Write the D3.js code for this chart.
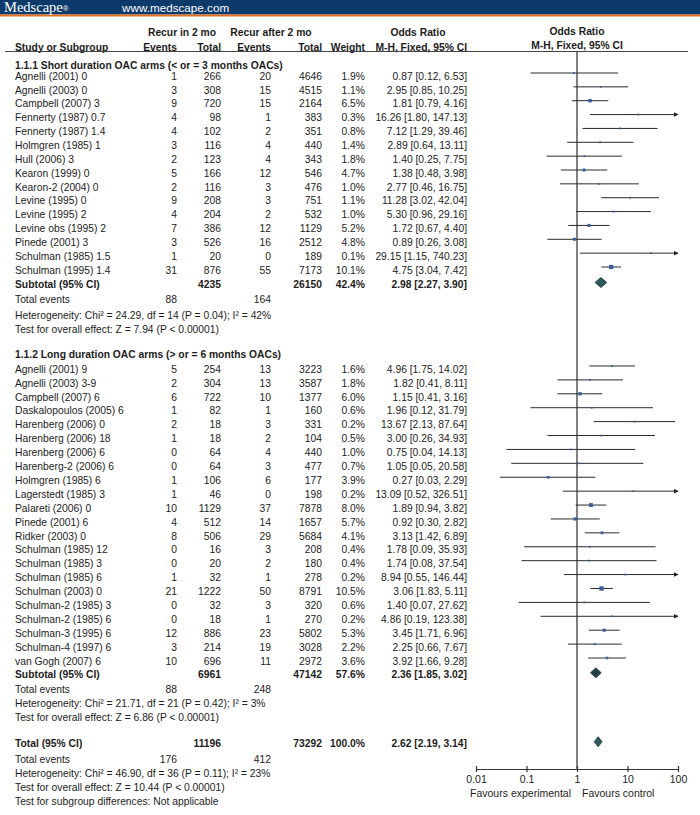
<!DOCTYPE html>
<html><head><meta charset="utf-8">
<script src="https://cdn.jsdelivr.net/npm/d3@7"></script>
<style>body{margin:0;background:#fff}</style>
</head><body>
<script>
// [study, events (in 2 mo), total, events (after 2 mo), total, weight %, OR, lower, upper]
const shortStudies = [
  ["Agnelli (2001) 0", 1, 266, 20, 4646, 1.9, 0.87, 0.12, 6.53],
  ["Agnelli (2003) 0", 3, 308, 15, 4515, 1.1, 2.95, 0.85, 10.25],
  ["Campbell (2007) 3", 9, 720, 15, 2164, 6.5, 1.81, 0.79, 4.16],
  ["Fennerty (1987) 0.7", 4, 98, 1, 383, 0.3, 16.26, 1.80, 147.13],
  ["Fennerty (1987) 1.4", 4, 102, 2, 351, 0.8, 7.12, 1.29, 39.46],
  ["Holmgren (1985) 1", 3, 116, 4, 440, 1.4, 2.89, 0.64, 13.11],
  ["Hull (2006) 3", 2, 123, 4, 343, 1.8, 1.40, 0.25, 7.75],
  ["Kearon (1999) 0", 5, 166, 12, 546, 4.7, 1.38, 0.48, 3.98],
  ["Kearon-2 (2004) 0", 2, 116, 3, 476, 1.0, 2.77, 0.46, 16.75],
  ["Levine (1995) 0", 9, 208, 3, 751, 1.1, 11.28, 3.02, 42.04],
  ["Levine (1995) 2", 4, 204, 2, 532, 1.0, 5.30, 0.96, 29.16],
  ["Levine obs (1995) 2", 7, 386, 12, 1129, 5.2, 1.72, 0.67, 4.40],
  ["Pinede (2001) 3", 3, 526, 16, 2512, 4.8, 0.89, 0.26, 3.08],
  ["Schulman (1985) 1.5", 1, 20, 0, 189, 0.1, 29.15, 1.15, 740.23],
  ["Schulman (1995) 1.4", 31, 876, 55, 7173, 10.1, 4.75, 3.04, 7.42]
];
const longStudies = [
  ["Agnelli (2001) 9", 5, 254, 13, 3223, 1.6, 4.96, 1.75, 14.02],
  ["Agnelli (2003) 3-9", 2, 304, 13, 3587, 1.8, 1.82, 0.41, 8.11],
  ["Campbell (2007) 6", 6, 722, 10, 1377, 6.0, 1.15, 0.41, 3.16],
  ["Daskalopoulos (2005) 6", 1, 82, 1, 160, 0.6, 1.96, 0.12, 31.79],
  ["Harenberg (2006) 0", 2, 18, 3, 331, 0.2, 13.67, 2.13, 87.64],
  ["Harenberg (2006) 18", 1, 18, 2, 104, 0.5, 3.00, 0.26, 34.93],
  ["Harenberg (2006) 6", 0, 64, 4, 440, 1.0, 0.75, 0.04, 14.13],
  ["Harenberg-2 (2006) 6", 0, 64, 3, 477, 0.7, 1.05, 0.05, 20.58],
  ["Holmgren (1985) 6", 1, 106, 6, 177, 3.9, 0.27, 0.03, 2.29],
  ["Lagerstedt (1985) 3", 1, 46, 0, 198, 0.2, 13.09, 0.52, 326.51],
  ["Palareti (2006) 0", 10, 1129, 37, 7878, 8.0, 1.89, 0.94, 3.82],
  ["Pinede (2001) 6", 4, 512, 14, 1657, 5.7, 0.92, 0.30, 2.82],
  ["Ridker (2003) 0", 8, 506, 29, 5684, 4.1, 3.13, 1.42, 6.89],
  ["Schulman (1985) 12", 0, 16, 3, 208, 0.4, 1.78, 0.09, 35.93],
  ["Schulman (1985) 3", 0, 20, 2, 180, 0.4, 1.74, 0.08, 37.54],
  ["Schulman (1985) 6", 1, 32, 1, 278, 0.2, 8.94, 0.55, 146.44],
  ["Schulman (2003) 0", 21, 1222, 50, 8791, 10.5, 3.06, 1.83, 5.11],
  ["Schulman-2 (1985) 3", 0, 32, 3, 320, 0.6, 1.40, 0.07, 27.62],
  ["Schulman-2 (1985) 6", 0, 18, 1, 270, 0.2, 4.86, 0.19, 123.38],
  ["Schulman-3 (1995) 6", 12, 886, 23, 5802, 5.3, 3.45, 1.71, 6.96],
  ["Schulman-4 (1997) 6", 3, 214, 19, 3028, 2.2, 2.25, 0.66, 7.67],
  ["van Gogh (2007) 6", 10, 696, 11, 2972, 3.6, 3.92, 1.66, 9.28]
];
// [label, total1, total2, weight, OR, lower, upper, events1, events2]
const shortSubtotal = ["Subtotal (95% CI)", 4235, 26150, 42.4, 2.98, 2.27, 3.90, 88, 164];
const longSubtotal  = ["Subtotal (95% CI)", 6961, 47142, 57.6, 2.36, 1.85, 3.02, 88, 248];
const overallTotal  = ["Total (95% CI)", 11196, 73292, 100.0, 2.62, 2.19, 3.14, 176, 412];
const shortNotes = ["Heterogeneity: Chi² = 24.29, df = 14 (P = 0.04); I² = 42%", "Test for overall effect: Z = 7.94 (P < 0.00001)"];
const longNotes = ["Heterogeneity: Chi² = 21.71, df = 21 (P = 0.42); I² = 3%", "Test for overall effect: Z = 6.86 (P < 0.00001)"];
const totalNotes = ["Heterogeneity: Chi² = 46.90, df = 36 (P = 0.11); I² = 23%", "Test for overall effect: Z = 10.44 (P < 0.00001)", "Test for subgroup differences: Not applicable"];
const sectionTitles = ["1.1.1 Short duration OAC arms (< or = 3 months OACs)", "1.1.2 Long duration OAC arms (> or = 6 months OACs)"];
const tickValues = [0.01, 0.1, 1, 10, 100];
const tickLabels = ["0.01", "0.1", "1", "10", "100"];

const W = 700, H = 815;
const FS = 10.3;
const ink = "#1c1c1c";
const svg = d3.select("body").append("svg").attr("width", W).attr("height", H)
  .style("font-family", "'Liberation Sans', Arial, Helvetica, sans-serif");
svg.append("rect").attr("width", W).attr("height", H).attr("fill", "#fff");

// banner
svg.append("rect").attr("x", 0).attr("y", 0).attr("width", W).attr("height", 14.5).attr("fill", "#0c3a6a");
svg.append("rect").attr("x", 0).attr("y", 14.5).attr("width", W).attr("height", 2).attr("fill", "#e5711e");
const ms = svg.append("text").attr("x", 4).attr("y", 12).attr("fill", "#fff")
  .style("font-family", "'Liberation Serif','DejaVu Serif',serif").style("font-size", "14.5px");
ms.append("tspan").text("Medscape");
ms.append("tspan").text("®").style("font-size", "8px").style("font-family", "'Liberation Sans',sans-serif").attr("dy", -1);
svg.append("text").attr("x", 122).attr("y", 11.5).attr("fill", "#fff").style("font-size", "11.7px").text("www.medscape.com");

const x = d3.scaleLog().domain([0.01, 100]).range([476, 678]);
const yShort = d3.scaleLinear().domain([0, shortStudies.length - 1]).range([76, 270]);
const yLong = d3.scaleLinear().domain([0, longStudies.length - 1]).range([369, 661]);
const sq = d3.scaleSqrt().domain([0, 10.5]).range([0, 4.4]);
const col = {e1: 177, n1: 221, e2: 271, n2: 322, w: 365, or: 467};
const BL = 3.7;

function txt(xp, yc, s, anchor, bold, size) {
  svg.append("text").attr("x", xp).attr("y", yc + BL).attr("text-anchor", anchor || "start")
    .attr("fill", ink).style("font-size", (size || FS) + "px").style("font-weight", bold ? "bold" : "normal").text(s);
}
const f2 = v => v.toFixed(2);
const orTxt = (o, l, h) => `${f2(o)} [${f2(l)}, ${f2(h)}]`;

// headers
txt(182, 32.7, "Recur in 2 mo", "middle", true);
txt(271, 32.7, "Recur after 2 mo", "middle", true);
txt(418, 32.7, "Odds Ratio", "middle", true);
txt(577, 31.7, "Odds Ratio", "middle", true);
txt(15, 47, "Study or Subgroup", "start", true);
txt(col.e1, 47, "Events", "end", true);
txt(col.n1, 47, "Total", "end", true);
txt(col.e2, 47, "Events", "end", true);
txt(col.n2, 47, "Total", "end", true);
txt(col.w, 47, "Weight", "end", true);
txt(col.or, 47, "M-H, Fixed, 95% CI", "end", true);
txt(577, 45.5, "M-H, Fixed, 95% CI", "middle", true);
svg.append("line").attr("x1", 5).attr("x2", 688).attr("y1", 51.5).attr("y2", 51.5).attr("stroke", "#444").attr("stroke-width", 1);

// null line
svg.append("line").attr("x1", x(1)).attr("x2", x(1)).attr("y1", 51.5).attr("y2", 769)
  .attr("stroke", "#3c3c3c").attr("stroke-width", 1.3);

// arrow marker
svg.append("defs").append("marker").attr("id", "arr").attr("viewBox", "0 0 10 10")
  .attr("refX", 9).attr("refY", 5).attr("markerWidth", 5).attr("markerHeight", 5)
  .attr("markerUnits", "userSpaceOnUse").attr("orient", "auto")
  .append("path").attr("d", "M0,0 L10,5 L0,10 Z").attr("fill", "#222");

function studyRows(data, yS) {
  data.forEach((d, i) => {
    const yc = yS(i);
    txt(15, yc, d[0]);
    txt(col.e1, yc, d[1], "end");
    txt(col.n1, yc, d[2], "end");
    txt(col.e2, yc, d[3], "end");
    txt(col.n2, yc, d[4], "end");
    txt(col.w, yc, d[5].toFixed(1) + "%", "end");
    txt(col.or, yc, orTxt(d[6], d[7], d[8]), "end");
    const ly = yc - 3;
    const lo = Math.max(d[7], 0.01), hi = Math.min(d[8], 100);
    const ln = svg.append("line").attr("x1", x(lo)).attr("x2", x(hi)).attr("y1", ly).attr("y2", ly)
      .attr("stroke", "#2a2a2a").attr("stroke-width", 1);
    if (d[8] > 100) ln.attr("marker-end", "url(#arr)");
    const s = Math.max(1.8, sq(d[5]));
    svg.append("rect").attr("x", x(d[6]) - s / 2).attr("y", ly - s / 2).attr("width", s).attr("height", s)
      .attr("fill", "#3b5f9a");
  });
}

function diamond(yc, o, l, h, fill) {
  const dy = yc - 1.5;
  svg.append("path").attr("d", `M${x(l)},${dy} L${x(o)},${dy - 5} L${x(h)},${dy} L${x(o)},${dy + 5} Z`)
    .attr("fill", fill).attr("stroke", "#1d3a3e").attr("stroke-width", 0.8);
}

function summaryRow(yc, s, fill) {
  txt(15, yc, s[0], "start", true);
  txt(col.n1, yc, s[1], "end", true);
  txt(col.n2, yc, s[2], "end", true);
  txt(col.w, yc, s[3].toFixed(1) + "%", "end", true);
  txt(col.or, yc, orTxt(s[4], s[5], s[6]), "end", true);
  diamond(yc, s[4], s[5], s[6], fill);
}
function eventsRow(yc, s) {
  txt(15, yc, "Total events");
  txt(col.e1, yc, s[7], "end");
  txt(col.e2, yc, s[8], "end");
}

// section 1
txt(15, 65, sectionTitles[0], "start", true);
studyRows(shortStudies, yShort);
summaryRow(284, shortSubtotal, "#2e5a5e");
eventsRow(299, shortSubtotal);
txt(15, 315, shortNotes[0]);
txt(15, 329.3, shortNotes[1]);

// section 2
txt(15, 354.3, sectionTitles[1], "start", true);
studyRows(longStudies, yLong);
summaryRow(674.3, longSubtotal, "#213f46");
eventsRow(689, longSubtotal);
txt(15, 703, longNotes[0]);
txt(15, 717.7, longNotes[1]);

// overall
summaryRow(743.3, overallTotal, "#2e5a5e");
eventsRow(759, overallTotal);
totalNotes.forEach((n, i) => txt(15, 773 + i * 14.1, n));

// axis
const ax = svg.append("g").attr("transform", "translate(0,769)")
  .call(d3.axisBottom(x).tickValues(tickValues).tickFormat((d, i) => tickLabels[i]).tickSize(3).tickSizeOuter(0).tickPadding(4));
ax.select(".domain").attr("stroke", "#333").attr("stroke-width", 1.2);
ax.selectAll(".tick line").attr("y1", -3).attr("y2", 3).attr("stroke", "#333").attr("stroke-width", 1.2);
ax.selectAll(".tick text").attr("fill", ink).style("font-size", "10.5px").style("font-family", "'Liberation Sans', Arial, sans-serif");
svg.append("text").attr("x", 571).attr("y", 796.5).attr("text-anchor", "end").attr("fill", ink).style("font-size", "10.5px").text("Favours experimental");
svg.append("text").attr("x", 582).attr("y", 796.5).attr("text-anchor", "start").attr("fill", ink).style("font-size", "10.5px").text("Favours control");
</script>
</body></html>
